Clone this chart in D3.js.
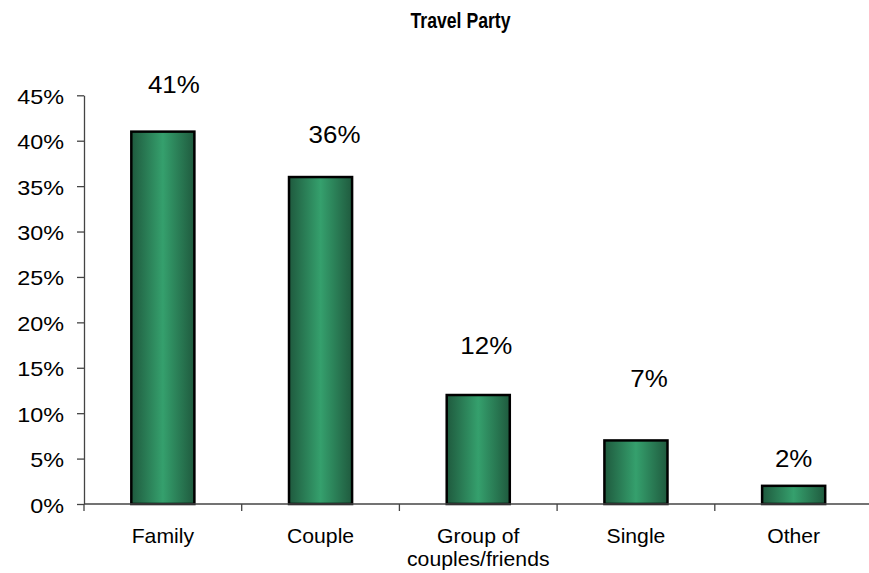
<!DOCTYPE html>
<html>
<head>
<meta charset="utf-8">
<script src="https://cdn.jsdelivr.net/npm/d3@7"></script>
<style>
  html, body { margin: 0; padding: 0; background: #fff; }
  svg { display: block; font-family: "Liberation Sans", Arial, sans-serif; }
</style>
</head>
<body>
<svg id="chart" width="869" height="573"></svg>
<script>
// ---- data ----
const categories = ["Family", "Couple", "Group of\ncouples/friends", "Single", "Other"];
const values = [41, 36, 12, 7, 2];
const yTicks = [0, 5, 10, 15, 20, 25, 30, 35, 40, 45];
const title = "Travel Party";

// ---- layout (hand-placed data-label nudges, as in the source) ----
const labelDx = [11, 14, 8, 13, 0];
const labelGap = [39, 34.5, 41.5, 53.5, 19];

(function () {
const svg = d3.select("#chart");
const plotLeft = 84, plotRight = 872.5, plotTop = 95.3, plotBottom = 504;

const x = d3.scaleBand().domain(categories).range([plotLeft, plotRight]).padding(0);
const y = d3.scaleLinear().domain([0, 45]).range([plotBottom, plotTop]);

// gradient
const defs = svg.append("defs");
const grad = defs.append("linearGradient").attr("id", "barGrad")
  .attr("x1", "0%").attr("x2", "100%").attr("y1", "0%").attr("y2", "0%");
grad.append("stop").attr("offset", "0%").attr("stop-color", "#1f5a3e");
grad.append("stop").attr("offset", "50%").attr("stop-color", "#35a06d");
grad.append("stop").attr("offset", "100%").attr("stop-color", "#1f5a3e");

// title
svg.append("text")
  .attr("transform", "translate(460.5,28.3) scale(0.82,1)")
  .attr("text-anchor", "middle").attr("font-weight", "bold")
  .attr("font-size", 21.5).attr("fill", "#000").text(title);

// y axis
const yAxis = d3.axisLeft(y).tickValues(yTicks).tickSize(7).tickSizeOuter(0)
  .tickFormat(d => d + "%");
const gy = svg.append("g").attr("transform", `translate(${plotLeft},0)`).call(yAxis);
gy.select(".domain").attr("stroke", "#444").attr("stroke-width", 1.3);
gy.selectAll(".tick line").attr("stroke", "#444").attr("stroke-width", 1.3);
gy.selectAll(".tick text").attr("font-size", 20).attr("fill", "#000")
  .attr("font-family", "Liberation Sans, Arial, sans-serif")
  .attr("x", null).attr("dy", null)
  .attr("transform", "translate(-20,8) scale(1.17,1)");

// bars
const bw = x.bandwidth() * 0.4;
svg.append("g").selectAll("rect").data(values).join("rect")
  .attr("x", (d, i) => x(categories[i]) + (x.bandwidth() - bw) / 2)
  .attr("y", d => y(d))
  .attr("width", bw)
  .attr("height", d => y(0) - y(d))
  .attr("fill", "url(#barGrad)")
  .attr("stroke", "#000").attr("stroke-width", 2.5);

// x axis
const xAxisLine = svg.append("g");
xAxisLine.append("line").attr("x1", plotLeft).attr("x2", plotRight)
  .attr("y1", plotBottom).attr("y2", plotBottom)
  .attr("stroke", "#444").attr("stroke-width", 1.3);
const bounds = categories.map(c => x(c)).concat([plotRight]);
xAxisLine.selectAll("line.tk").data(bounds).join("line").attr("class", "tk")
  .attr("x1", d => d).attr("x2", d => d)
  .attr("y1", plotBottom).attr("y2", plotBottom + 7)
  .attr("stroke", "#444").attr("stroke-width", 1.3);

// category labels
const cat = svg.append("g").selectAll("text").data(categories).join("text")
  .attr("text-anchor", "middle").attr("font-size", 20).attr("fill", "#000")
  .attr("transform", d => `translate(${x(d) + x.bandwidth() / 2},542.5) scale(1.06,1)`);
cat.each(function(d) {
  const lines = d.split("\n");
  d3.select(this).selectAll("tspan").data(lines).join("tspan")
    .attr("x", 0).attr("y", (l, i) => i * 24).text(l => l);
});

// value labels
svg.append("g").selectAll("text").data(values).join("text")
  .attr("text-anchor", "middle").attr("font-size", 24).attr("fill", "#000")
  .attr("transform", (d, i) =>
    `translate(${x(categories[i]) + x.bandwidth() / 2 + labelDx[i]},${y(d) - labelGap[i]}) scale(1.08,1)`)
  .text(d => d + "%");
})();
</script>
</body>
</html>
